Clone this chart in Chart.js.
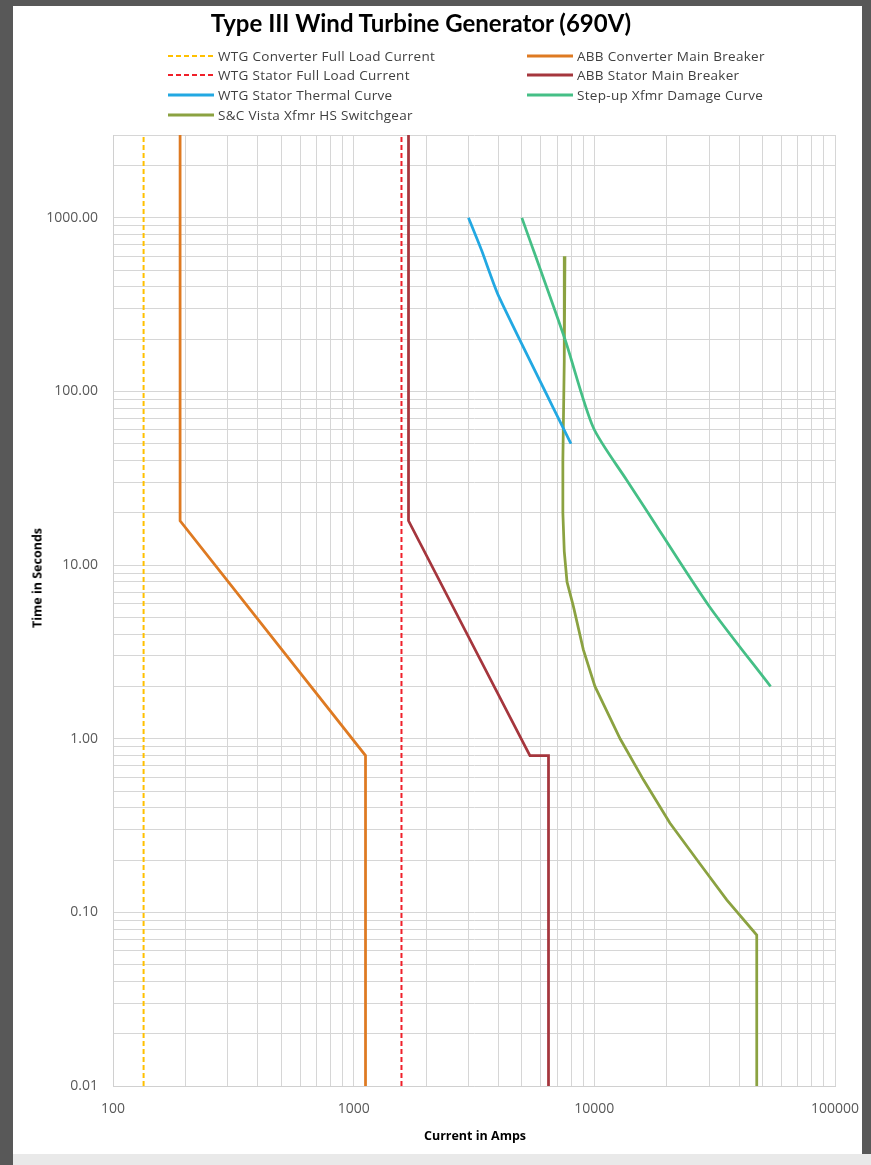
<!DOCTYPE html>
<html>
<head>
<meta charset="utf-8">
<title>Type III Wind Turbine Generator (690V)</title>
<script src="https://cdn.jsdelivr.net/npm/chart.js@4.4.1/dist/chart.umd.min.js"></script>
<style>
  html, body { margin: 0; padding: 0; }
  body { width: 871px; height: 1165px; background: #585858; position: relative; overflow: hidden; }
  #panel { position: absolute; left: 13px; top: 6px; width: 849px; height: 1148px; background: #fff; }
  #strip { position: absolute; left: 13px; top: 1154px; width: 858px; height: 11px; background: #e9e9e9; }
  #tccChart { position: absolute; left: 0; top: 0; }
  #title { position: absolute; left: 108px; top: 2px; width: 600px; text-align: center;
           font: bold 24px Lato, sans-serif; color: #000; }
  #legend { position: absolute; left: 155px; top: 40px; display: grid;
            grid-template-columns: 359px 260px; grid-auto-rows: 19.6px; }
  .item { display: flex; align-items: center; font: 13.5px "Open Sans", sans-serif; letter-spacing: 0.3px; color: #404040; }
  .item svg { margin-right: 4px; flex: none; }
  .axisTitle { position: absolute; font: bold 12.5px "Open Sans", sans-serif; color: #000; white-space: nowrap; }
  #yTitle { left: 24px; top: 572px; transform: translate(-50%, -50%) rotate(-90deg); }
  #xTitle { left: 462px; top: 1129px; transform: translate(-50%, -50%); }
</style>
</head>
<body>
<div id="panel">
  <canvas id="tccChart" width="849" height="1148"></canvas>
  <div id="title">Type III Wind Turbine Generator (690V)</div>
  <div id="legend"></div>
  <div class="axisTitle" id="yTitle">Time in Seconds</div>
  <div class="axisTitle" id="xTitle">Current in Amps</div>
</div>
<div id="strip"></div>
<script>
// axis labels
const xTickValues = [100, 1000, 10000, 100000];
const xTickLabels = ['100', '1000', '10000', '100000'];
const yTickValues = [0.01, 0.1, 1, 10, 100, 1000];
const yTickLabels = ['0.01', '0.10', '1.00', '10.00', '100.00', '1000.00'];

// curves, current in A against time in s
const convFlcAmps = [134, 134];
const convFlcSecs = [0.01, 3000];

const abbConvAmps = [190, 190, 1120, 1120];
const abbConvSecs = [3000, 18, 0.8, 0.01];

const statorFlcAmps = [1580, 1580];
const statorFlcSecs = [0.01, 3000];

const abbStatorAmps = [1690, 1690, 5400, 6450, 6450];
const abbStatorSecs = [3000, 18, 0.8, 0.8, 0.01];

const thermalAmps = [3000, 3400, 4000, 8000];
const thermalSecs = [1000, 650, 355, 50];

const stepUpAmps = [5000, 7550, 9900, 13600, 16000, 30000, 54000];
const stepUpSecs = [1000, 200, 62, 31, 22, 5.8, 2];

const vistaAmps = [7550, 7500, 7400, 7400, 7500, 7700, 8180, 9000, 10060, 12800, 16000, 20600, 27500, 35500, 47300, 47300];
const vistaSecs = [600, 150, 40, 20, 12, 8, 5.8, 3.26, 2.0, 1.0, 0.58, 0.327, 0.19, 0.118, 0.074, 0.01];

function pts(xs, ys) {
    return xs.map((x, i) => ({ x: x, y: ys[i] }));
}

// 1..9 per decade, for the gridlines
function gridValues(lo, hi) {
    let out = [];
    for (let d = lo; d < hi; d *= 10) {
        for (let m = 1; m < 10; m++) {
            let v = parseFloat((m * d).toPrecision(6));
            if (v <= hi) out.push(v);
        }
    }
    out.push(hi);
    return out;
}

function labelFor(v, values, labels) {
    for (let i = 0; i < values.length; i++) {
        if (Math.abs(v - values[i]) / values[i] < 1e-6) return labels[i];
    }
    return '';
}

const series = [
    { label: 'WTG Converter Full Load Current', data: pts(convFlcAmps, convFlcSecs), borderColor: '#FFC000', dash: [5, 3], width: 2 },
    { label: 'ABB Converter Main Breaker', data: pts(abbConvAmps, abbConvSecs), borderColor: '#DE7A22', dash: [], width: 2.75 },
    { label: 'WTG Stator Full Load Current', data: pts(statorFlcAmps, statorFlcSecs), borderColor: '#F0202A', dash: [5, 3], width: 2 },
    { label: 'ABB Stator Main Breaker', data: pts(abbStatorAmps, abbStatorSecs), borderColor: '#A5363D', dash: [], width: 2.75 },
    { label: 'WTG Stator Thermal Curve', data: pts(thermalAmps, thermalSecs), borderColor: '#22A8E2', dash: [], width: 2.75, tension: 0.2 },
    { label: 'Step-up Xfmr Damage Curve', data: pts(stepUpAmps, stepUpSecs), borderColor: '#45BF86', dash: [], width: 2.75, tension: 0.25 },
    { label: 'S&C Vista Xfmr HS Switchgear', data: pts(vistaAmps, vistaSecs), borderColor: '#8BA241', dash: [], width: 2.75 }
];

const gridGray = '#d6d6d6';
const tickFont = { family: 'Open Sans', size: 14 };

const chart = new Chart(document.getElementById('tccChart'), {
    type: 'scatter',
    data: {
        datasets: series.map(s => ({
            label: s.label,
            data: s.data,
            showLine: true,
            borderColor: s.borderColor,
            backgroundColor: s.borderColor,
            borderWidth: s.width,
            borderDash: s.dash,
            tension: s.tension || 0,
            pointRadius: 0,
            fill: false
        }))
    },
    options: {
        responsive: false,
        animation: false,
        devicePixelRatio: 1,
        layout: { padding: { left: 0, right: 27, top: 129, bottom: 0 } },
        plugins: {
            legend: { display: false },
            title: { display: false },
            tooltip: { enabled: false }
        },
        scales: {
            x: {
                type: 'logarithmic',
                min: 100,
                max: 100000,
                afterBuildTicks: s => { s.ticks = gridValues(100, 100000).map(v => ({ value: v })); },
                afterFit: s => { s.height = 68; s.paddingLeft = 0; s.paddingRight = 0; },
                ticks: {
                    autoSkip: false, maxRotation: 0, padding: 15, color: '#595959', font: tickFont,
                    callback: v => labelFor(v, xTickValues, xTickLabels)
                },
                grid: { color: gridGray, drawTicks: false },
                border: { color: '#d0d0d0' }
            },
            y: {
                type: 'logarithmic',
                min: 0.01,
                max: 3000,
                afterBuildTicks: s => { s.ticks = gridValues(0.01, 1000).concat([2000, 3000]).map(v => ({ value: v })); },
                afterFit: s => { s.width = 100; s.paddingTop = 0; s.paddingBottom = 0; },
                ticks: {
                    autoSkip: false, padding: 15, color: '#595959', font: tickFont,
                    callback: v => labelFor(v, yTickValues, yTickLabels)
                },
                grid: { color: gridGray, drawTicks: false },
                border: { color: '#d0d0d0' }
            }
        }
    }
});

// legend, two columns like the original
const legend = document.getElementById('legend');
chart.data.datasets.forEach(ds => {
    let item = document.createElement('div');
    item.className = 'item';
    let dash = ds.borderDash.length ? ' stroke-dasharray="' + ds.borderDash.join(' ') + '"' : '';
    item.innerHTML = '<svg width="46" height="6"><line x1="0" y1="3" x2="46" y2="3" stroke="' + ds.borderColor +
        '" stroke-width="' + (ds.borderDash.length ? 2 : 3) + '"' + dash + '/></svg>';
    let txt = document.createElement('span');
    txt.textContent = ds.label;
    item.appendChild(txt);
    legend.appendChild(item);
});
</script>
</body>
</html>
